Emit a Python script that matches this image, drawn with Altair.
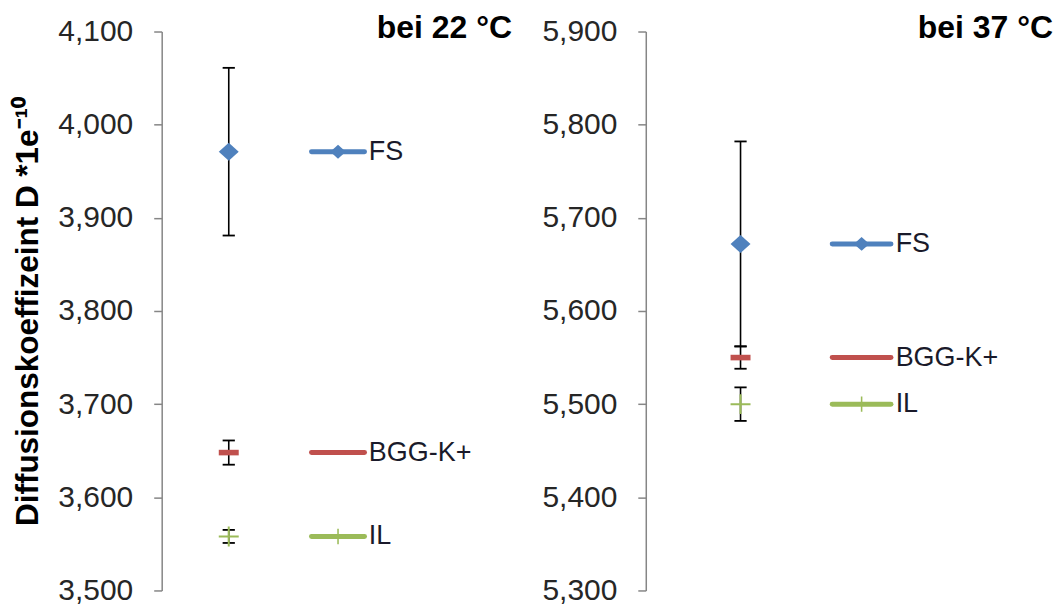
import altair as alt
import pandas as pd

# ---- data ----
series = ["FS", "BGG-K+", "IL"]
mean_22 = [3971, 3648, 3558]
err_22 = [90, 13, 7]
mean_37 = [5672, 5550, 5500]
err_37 = [110, 12, 18]
ticks_22 = [3500, 3600, 3700, 3800, 3900, 4000, 4100]
ticks_37 = [5300, 5400, 5500, 5600, 5700, 5800, 5900]
titles = ["bei 22 °C", "bei 37 °C"]
y_title = "Diffusionskoeffizeint  D *1e⁻¹⁰"

# ---- styling ----
colors = ["#4F81BD", "#C0504D", "#9BBB59"]
shapes = [
    "M0,-0.9L1,0L0,0.9L-1,0Z",
    "M-1,-0.28L1,-0.28L1,0.28L-1,0.28Z",
    "M-1,-0.1L-0.1,-0.1L-0.1,-1L0.1,-1L0.1,-0.1L1,-0.1L1,0.1L0.1,0.1L0.1,1L-0.1,1L-0.1,0.1L-1,0.1Z",
]
FONT = "Liberation Sans"
H = 560
POINT_X, LEG_X0, LEG_X1, LEG_MID, LEG_TXT = 1.0, 2.0, 2.64, 2.32, 2.68


def panel(means, errs, ticks, title, width, xdom, show_title):
    df = pd.DataFrame({
        "series": series,
        "mean": means,
        "lo": [m - e for m, e in zip(means, errs)],
        "hi": [m + e for m, e in zip(means, errs)],
    })
    df["px"] = POINT_X
    df["lx0"] = LEG_X0
    df["lx1"] = LEG_X1
    df["lmid"] = LEG_MID
    df["ltxt"] = LEG_TXT

    xsc = alt.Scale(domain=xdom, nice=False, zero=False)
    ysc = alt.Scale(domain=[ticks[0], ticks[-1]], nice=False, zero=False)
    yax = alt.Axis(
        values=ticks, format=",d", grid=False,
        title=y_title if show_title else None,
        titleFontSize=31.5, titleFontWeight="bold", titleFont=FONT,
        titleColor="#000000", titlePadding=13,
    )
    col = alt.Color("series:N", scale=alt.Scale(domain=series, range=colors), legend=None)
    shp = alt.Shape("series:N", scale=alt.Scale(domain=series, range=shapes), legend=None)

    base = alt.Chart(df)
    err = base.mark_rule(color="#000000", strokeWidth=1.6).encode(
        x=alt.X("px:Q", scale=xsc, axis=None),
        y=alt.Y("lo:Q", scale=ysc, axis=yax),
        y2="hi:Q",
    )
    cap_lo = base.mark_point(shape="M-1,0L1,0", size=150, color="#000000",
                             strokeWidth=1.8, filled=False, opacity=1).encode(
        x=alt.X("px:Q", scale=xsc, axis=None), y=alt.Y("lo:Q", scale=ysc))
    cap_hi = base.mark_point(shape="M-1,0L1,0", size=150, color="#000000",
                             strokeWidth=1.8, filled=False, opacity=1).encode(
        x=alt.X("px:Q", scale=xsc, axis=None), y=alt.Y("hi:Q", scale=ysc))
    marks = base.mark_point(filled=True, opacity=1, size=400, strokeWidth=0).encode(
        x=alt.X("px:Q", scale=xsc, axis=None), y=alt.Y("mean:Q", scale=ysc),
        color=col, shape=shp)
    leg_line = base.mark_rule(strokeWidth=5, strokeCap="round").encode(
        x=alt.X("lx0:Q", scale=xsc, axis=None), x2="lx1:Q",
        y=alt.Y("mean:Q", scale=ysc), color=col)
    leg_mark = base.mark_point(filled=True, opacity=1, size=240, strokeWidth=0).encode(
        x=alt.X("lmid:Q", scale=xsc, axis=None), y=alt.Y("mean:Q", scale=ysc),
        color=col, shape=shp)
    leg_txt = base.mark_text(align="left", baseline="middle", fontSize=27,
                             font=FONT, color="#1a1a2a", dx=1).encode(
        x=alt.X("ltxt:Q", scale=xsc, axis=None), y=alt.Y("mean:Q", scale=ysc),
        text="series:N")
    ttl = alt.Chart(pd.DataFrame({"t": [title]})).mark_text(
        align="right", baseline="alphabetic", fontSize=32, fontWeight="bold",
        font=FONT, color="#000000").encode(
        x=alt.value(width - 4), y=alt.value(6), text="t:N")

    return alt.layer(err, cap_lo, cap_hi, marks, leg_line, leg_mark, leg_txt, ttl).properties(
        width=width, height=H)


left = panel(mean_22, err_22, ticks_22, titles[0], 355, [0.19, 4.47], True)
right = panel(mean_37, err_37, ticks_37, titles[1], 412, [-0.033, 4.45], False)

chart = alt.hconcat(left, right, spacing=25).properties(
    padding={"left": 12, "top": 11, "right": 0, "bottom": 0}
).configure_view(stroke=None).configure_axis(
    domainColor="#868686", domainWidth=1.5, tickColor="#868686", tickWidth=1.5,
    tickSize=8, labelFontSize=30, labelFont=FONT, labelColor="#262626",
    labelPadding=21,
)

chart.save("out.html", embed_options={"renderer": "svg", "actions": False})
